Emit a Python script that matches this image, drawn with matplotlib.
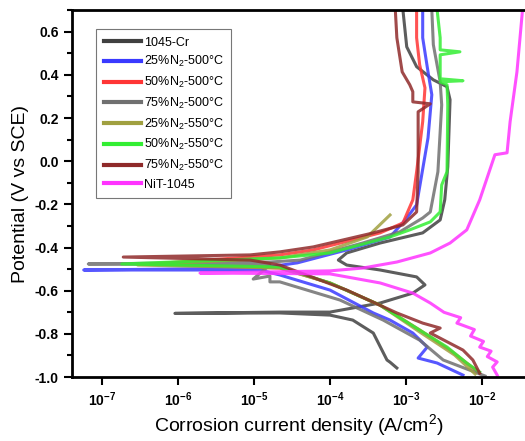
import numpy as np
import matplotlib
matplotlib.use('Agg')
import matplotlib.pyplot as plt

plt.rcParams['font.family'] = ['Liberation Sans', 'DejaVu Sans']
plt.rcParams['mathtext.fontset'] = 'custom'
plt.rcParams['mathtext.rm'] = 'Liberation Sans'
plt.rcParams['mathtext.bf'] = 'Liberation Sans:bold'
plt.rcParams['mathtext.it'] = 'Liberation Sans:italic'

# log10 of current density (A/cm2) and potential (V vs SCE)
cr_logi = [-3.12, -3.21, -3.25, -3.43, -3.70, -4.00, -4.66, -6.04, -4.66, -4.00, -3.34, -2.91, -2.75,
           -2.86, -3.34, -3.78, -3.89, -3.78, -3.34, -2.78, -2.55, -2.49, -2.45, -2.42, -2.46, -2.64,
           -2.86, -2.99, -3.04]
cr_e = [-0.958, -0.931, -0.921, -0.796, -0.736, -0.713, -0.703, -0.705, -0.699, -0.699, -0.657, -0.611,
        -0.573, -0.536, -0.504, -0.481, -0.458, -0.425, -0.379, -0.332, -0.272, -0.179, -0.026, 0.285,
        0.345, 0.377, 0.438, 0.530, 0.70]

b500_logi = [-2.25, -2.59, -2.84, -2.72, -2.91, -3.21, -3.43, -4.00, -4.66, -4.92, -7.24, -4.92, -4.43,
             -3.78, -3.21, -3.01, -2.86, -2.71, -2.66, -2.71, -2.78, -2.78]
b500_e = [-0.991, -0.935, -0.912, -0.861, -0.796, -0.736, -0.703, -0.597, -0.527, -0.504, -0.504, -0.495,
          -0.471, -0.411, -0.351, -0.272, -0.202, 0.108, 0.308, 0.414, 0.572, 0.70]

r500_logi = [-2.05, -2.42, -2.82, -3.34, -4.00, -4.66, -6.37, -4.66, -4.22, -3.34, -3.04, -2.91, -2.86,
             -2.78, -2.75, -2.82, -2.86, -2.86]
r500_e = [-0.977, -0.875, -0.782, -0.667, -0.564, -0.495, -0.476, -0.434, -0.411, -0.332, -0.286, -0.179,
          -0.049, 0.183, 0.340, 0.447, 0.572, 0.70]

g500_logi = [-1.96, -2.51, -2.82, -3.30, -3.87, -4.66, -4.79, -4.79, -5.01, -4.79, -7.18, -4.79, -4.39,
             -3.57, -3.08, -2.78, -2.68, -2.58, -2.53, -2.55, -2.64, -2.66]
g500_e = [-0.995, -0.921, -0.829, -0.736, -0.643, -0.559, -0.559, -0.532, -0.546, -0.481, -0.476, -0.467,
          -0.458, -0.379, -0.327, -0.263, -0.235, -0.049, 0.261, 0.368, 0.540, 0.70]

o550_logi = [-2.09, -2.36, -2.82, -3.34, -4.00, -4.66, -6.53, -4.66, -4.00, -3.51, -3.21]
o550_e = [-0.986, -0.898, -0.791, -0.667, -0.564, -0.495, -0.481, -0.448, -0.411, -0.351, -0.249]

gr550_logi = [-2.03, -2.20, -2.46, -2.82, -3.34, -4.00, -4.66, -6.74, -4.66, -4.00, -3.21, -2.95, -2.68,
              -2.55, -2.53, -2.46, -2.45, -2.46, -2.55, -2.25, -2.55, -2.55, -2.29, -2.55, -2.55, -2.59]
gr550_e = [-0.977, -0.935, -0.861, -0.782, -0.667, -0.564, -0.490, -0.476, -0.448, -0.425, -0.351, -0.318,
           -0.281, -0.235, -0.110, -0.049, 0.261, 0.354, 0.368, 0.373, 0.382, 0.493, 0.507, 0.516, 0.572,
           0.70]

br550_logi = [-2.03, -2.12, -2.25, -2.68, -2.55, -2.78, -3.12, -3.78, -4.66, -5.05, -6.72, -5.05, -4.66,
              -4.22, -3.43, -3.04, -2.86, -2.84, -2.84, -2.68, -2.91, -2.91, -2.95, -3.05, -3.12, -3.14]
br550_e = [-0.982, -0.921, -0.875, -0.796, -0.773, -0.750, -0.703, -0.597, -0.481, -0.458, -0.444, -0.434,
           -0.420, -0.397, -0.332, -0.295, -0.235, -0.049, 0.229, 0.266, 0.275, 0.322, 0.354, 0.414,
           0.572, 0.70]

nit_logi = [-1.80, -1.86, -1.80, -1.93, -1.88, -2.03, -1.98, -2.15, -2.10, -2.33, -2.28, -2.50, -2.68,
            -2.91, -3.34, -4.00, -5.71, -4.00, -3.57, -3.12, -2.68, -2.42, -2.20, -2.03, -1.83, -1.67,
            -1.63, -1.54, -1.47]
nit_e = [-0.991, -0.954, -0.93, -0.905, -0.88, -0.861, -0.835, -0.81, -0.78, -0.750, -0.725, -0.70, -0.657,
         -0.611, -0.564, -0.522, -0.518, -0.508, -0.495, -0.467, -0.425, -0.379, -0.318, -0.179, 0.030,
         0.039, 0.183, 0.414, 0.688]

labels = ['1045-Cr', '25%N$_2$-500°C', '50%N$_2$-500°C', '75%N$_2$-500°C',
          '25%N$_2$-550°C', '50%N$_2$-550°C', '75%N$_2$-550°C', 'NiT-1045']
colors = ['#404040', '#3a3aff', '#ff3535', '#707070', '#a0a040', '#33ee33', '#8f2a2a', '#ff33ff']
series = [(cr_logi, cr_e), (b500_logi, b500_e), (r500_logi, r500_e), (g500_logi, g500_e),
          (o550_logi, o550_e), (gr550_logi, gr550_e), (br550_logi, br550_e), (nit_logi, nit_e)]

fig = plt.figure(figsize=(5.25, 4.41), dpi=100)
ax = fig.add_axes([0.137, 0.145, 0.863, 0.832])

for (li, e), lab, c in zip(series, labels, colors):
    ax.plot(np.power(10.0, li), e, color=c, lw=2.2, alpha=0.85, label=lab, solid_joinstyle='round')

ax.set_xscale('log')
ax.set_xlim(10 ** -7.395, 10 ** -1.434)
ax.set_ylim(-1.0, 0.70)

xt = [1e-7, 1e-6, 1e-5, 1e-4, 1e-3, 1e-2]
ax.set_xticks(xt)
ax.set_xticklabels([r'$\mathbf{10^{%d}}$' % int(np.log10(v)) for v in xt], fontsize=10)
ax.xaxis.set_minor_locator(matplotlib.ticker.NullLocator())
yt = np.round(np.arange(-1.0, 0.61, 0.2), 1)
ax.set_yticks(yt)
ax.set_yticklabels(['%.1f' % (v + 0.0) for v in yt], fontsize=10, fontweight='bold')
ax.set_yticks(np.arange(-0.9, 0.71, 0.2), minor=True)

ax.tick_params(which='major', direction='out', length=6, width=1.5)
ax.tick_params(which='minor', direction='out', length=3.5, width=1.5)
for s in ['left', 'bottom', 'top']:
    ax.spines[s].set_linewidth(2)
ax.spines['right'].set_visible(False)

ax.set_xlabel('Corrosion current density (A/cm$^2$)', fontsize=14, labelpad=2)
ax.set_ylabel('Potential (V vs SCE)', fontsize=14)

leg = ax.legend(loc='upper left', bbox_to_anchor=(0.04, 0.965), fontsize=9, frameon=True,
                fancybox=False, edgecolor='#555555', handlelength=3.0, handletextpad=0.2,
                borderpad=0.6, labelspacing=0.45)
leg.get_frame().set_linewidth(0.8)
for h in leg.get_lines():
    h.set_linewidth(3)
    h.set_alpha(1)

fig.savefig('out.png', dpi=100)
